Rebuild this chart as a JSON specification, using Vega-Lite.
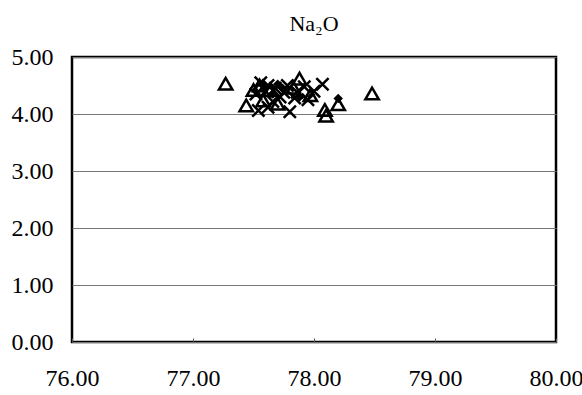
{
  "$schema": "https://vega.github.io/schema/vega-lite/v6.json",
  "width": 484,
  "height": 285,
  "autosize": {"type": "none"},
  "padding": {"left": 72, "top": 57, "right": 26, "bottom": 53},
  "background": "white",
  "title": {"text": "Na₂O", "font": "Liberation Serif", "fontSize": 22, "fontWeight": "normal", "color": "black", "offset": 9, "anchor": "middle"},
  "config": {
    "view": {"stroke": "black", "strokeWidth": 2.5}
  },
  "data": {"values": [
    {"x": 77.27, "y": 4.53, "s": "tri"},
    {"x": 78.48, "y": 4.36, "s": "tri"},
    {"x": 77.44, "y": 4.15, "s": "tri"},
    {"x": 77.50, "y": 4.42, "s": "tri"},
    {"x": 77.88, "y": 4.62, "s": "tri"},
    {"x": 78.09, "y": 4.07, "s": "tri"},
    {"x": 78.10, "y": 3.97, "s": "tri"},
    {"x": 78.20, "y": 4.17, "s": "tri"},
    {"x": 77.64, "y": 4.42, "s": "tri"},
    {"x": 77.58, "y": 4.24, "s": "tri"},
    {"x": 77.97, "y": 4.33, "s": "tri"},
    {"x": 77.83, "y": 4.46, "s": "tri"},
    {"x": 77.70, "y": 4.18, "s": "tri"},
    {"x": 77.55, "y": 4.50, "s": "tri"},
    {"x": 78.07, "y": 4.52, "s": "x"},
    {"x": 77.54, "y": 4.06, "s": "x"},
    {"x": 77.80, "y": 4.04, "s": "x"},
    {"x": 77.62, "y": 4.12, "s": "x"},
    {"x": 77.56, "y": 4.55, "s": "x"},
    {"x": 77.62, "y": 4.50, "s": "x"},
    {"x": 77.68, "y": 4.45, "s": "x"},
    {"x": 77.72, "y": 4.30, "s": "x"},
    {"x": 77.78, "y": 4.50, "s": "x"},
    {"x": 77.86, "y": 4.38, "s": "x"},
    {"x": 77.92, "y": 4.48, "s": "x"},
    {"x": 77.95, "y": 4.25, "s": "x"},
    {"x": 77.66, "y": 4.22, "s": "x"},
    {"x": 77.52, "y": 4.35, "s": "x"},
    {"x": 77.60, "y": 4.40, "s": "x"},
    {"x": 77.84, "y": 4.28, "s": "x"},
    {"x": 77.75, "y": 4.38, "s": "x"},
    {"x": 78.00, "y": 4.40, "s": "x"},
    {"x": 77.58, "y": 4.52, "s": "d"},
    {"x": 77.66, "y": 4.35, "s": "d"},
    {"x": 77.74, "y": 4.45, "s": "d"},
    {"x": 77.88, "y": 4.30, "s": "d"},
    {"x": 78.20, "y": 4.27, "s": "d"},
    {"x": 77.70, "y": 4.52, "s": "d"}
  ]},
  "encoding": {
    "x": {"field": "x", "type": "quantitative", "title": null, "scale": {"domain": [76, 80], "nice": false, "zero": false},
      "axis": {"values": [76, 77, 78, 79, 80], "format": ".2f", "grid": false, "domain": false, "tickSize": -4, "tickColor": "#555", "labelPadding": 28, "labelFlush": false, "labelOverlap": false, "labelFont": "Liberation Serif", "labelFontSize": 24, "labelColor": "black"}},
    "y": {"field": "y", "type": "quantitative", "title": null, "scale": {"domain": [0, 5], "nice": false},
      "axis": {"values": [0, 1, 2, 3, 4, 5], "format": ".2f", "grid": true, "domain": false, "gridColor": "#777", "gridWidth": 1, "ticks": false, "labelPadding": 19, "labelFlush": false, "labelOverlap": false, "labelFont": "Liberation Serif", "labelFontSize": 24, "labelColor": "black"}}
  },
  "layer": [
    {"transform": [{"filter": "datum.s === 'tri'"}], "mark": {"type": "point", "shape": "triangle-up", "size": 180, "filled": false, "stroke": "black", "strokeWidth": 2.5, "opacity": 1}},
    {"transform": [{"filter": "datum.s === 'x'"}], "mark": {"type": "point", "shape": "M-1,-1L1,1M-1,1L1,-1", "size": 150, "filled": false, "stroke": "black", "strokeWidth": 2.5, "opacity": 1}},
    {"transform": [{"filter": "datum.s === 'd'"}], "mark": {"type": "point", "shape": "diamond", "size": 90, "filled": true, "fill": "black", "opacity": 1}}
  ]
}
